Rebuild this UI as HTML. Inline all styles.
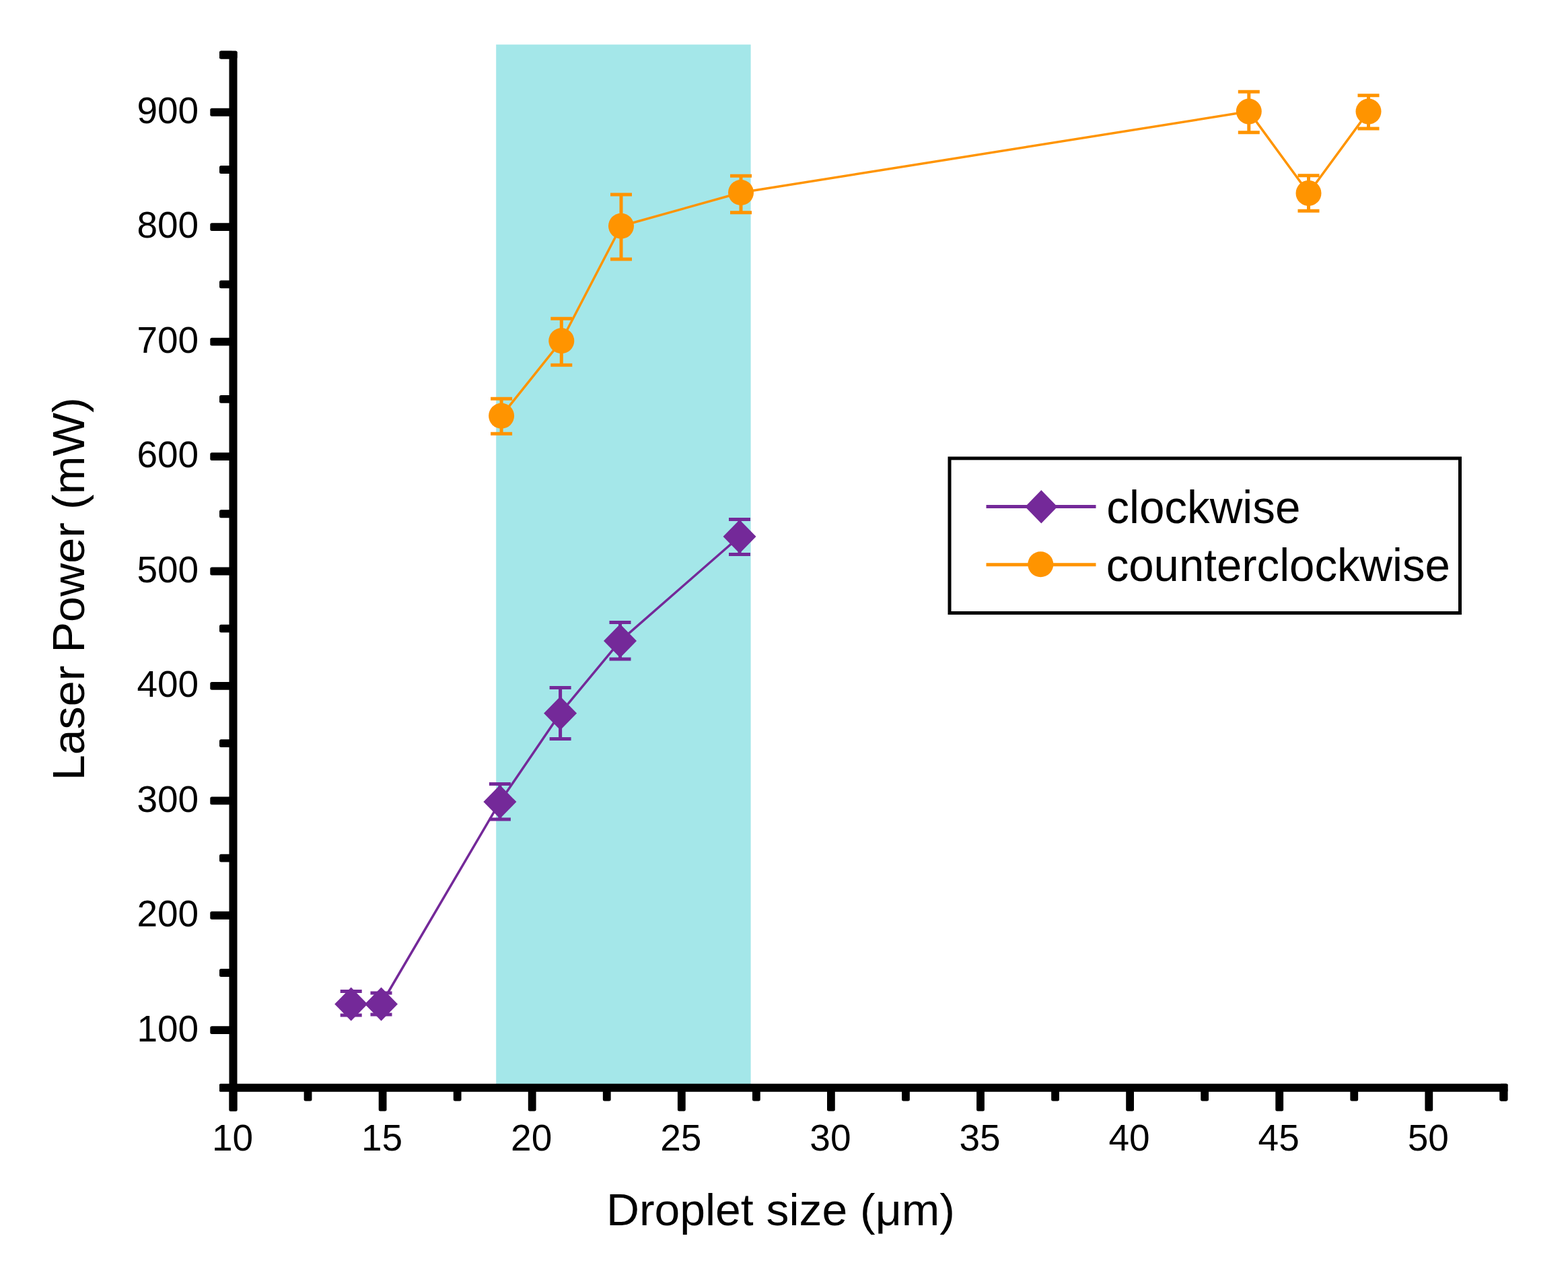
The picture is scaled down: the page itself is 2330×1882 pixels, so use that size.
<!DOCTYPE html>
<html><head><meta charset="utf-8"><title>Laser Power vs Droplet size</title>
<style>
html,body{margin:0;padding:0;background:#fff;}
body{width:2330px;height:1882px;overflow:hidden;}
svg{display:block;}
text{font-family:"Liberation Sans",Arial,Helvetica,sans-serif;fill:#000;}
</style></head><body>
<svg width="2330" height="1882" viewBox="0 0 2330 1882">
<rect width="2330" height="1882" fill="#fff"/>
<rect x="737.2" y="66.2" width="378.4" height="1545.8" fill="#a4e7e9"/>
<path d="M521.7,1491.5 L566.5,1491.5 L742.9,1191.1 L832.6,1059.4 L921.5,952.1 L1099.0,797.0" fill="none" stroke="#742999" stroke-width="3.5" stroke-linejoin="round"/>
<path d="M521.7,1472.5 V1508.0 M505.7,1472.5 H537.7 M505.7,1508.0 H537.7" stroke="#742999" stroke-width="5" fill="none"/>
<path d="M566.5,1475.0 V1507.0 M550.5,1475.0 H582.5 M550.5,1507.0 H582.5" stroke="#742999" stroke-width="5" fill="none"/>
<path d="M742.9,1164.6 V1217.0 M726.9,1164.6 H758.9 M726.9,1217.0 H758.9" stroke="#742999" stroke-width="5" fill="none"/>
<path d="M832.6,1021.4 V1097.5 M816.6,1021.4 H848.6 M816.6,1097.5 H848.6" stroke="#742999" stroke-width="5" fill="none"/>
<path d="M921.5,924.6 V979.1 M905.5,924.6 H937.5 M905.5,979.1 H937.5" stroke="#742999" stroke-width="5" fill="none"/>
<path d="M1099.0,771.6 V823.5 M1083.0,771.6 H1115.0 M1083.0,823.5 H1115.0" stroke="#742999" stroke-width="5" fill="none"/>
<path d="M521.7,1466.5 L546.2,1491.5 L521.7,1516.5 L497.2,1491.5 Z" fill="#742999"/>
<path d="M566.5,1466.5 L591.0,1491.5 L566.5,1516.5 L542.0,1491.5 Z" fill="#742999"/>
<path d="M742.9,1166.1 L767.4,1191.1 L742.9,1216.1 L718.4,1191.1 Z" fill="#742999"/>
<path d="M832.6,1034.4 L857.1,1059.4 L832.6,1084.4 L808.1,1059.4 Z" fill="#742999"/>
<path d="M921.5,927.1 L946.0,952.1 L921.5,977.1 L897.0,952.1 Z" fill="#742999"/>
<path d="M1099.0,772.0 L1123.5,797.0 L1099.0,822.0 L1074.5,797.0 Z" fill="#742999"/>
<path d="M745.1,617.7 L834.3,506.2 L923.0,335.8 L1101.0,286.0 L1855.8,165.6 L1944.5,286.9 L2033.5,165.6" fill="none" stroke="#ff9400" stroke-width="3.5" stroke-linejoin="round"/>
<path d="M745.1,592.3 V644.3 M729.1,592.3 H761.1 M729.1,644.3 H761.1" stroke="#ff9400" stroke-width="5" fill="none"/>
<path d="M834.3,473.2 V542.2 M818.3,473.2 H850.3 M818.3,542.2 H850.3" stroke="#ff9400" stroke-width="5" fill="none"/>
<path d="M923.0,288.9 V385.0 M907.0,288.9 H939.0 M907.0,385.0 H939.0" stroke="#ff9400" stroke-width="5" fill="none"/>
<path d="M1101.0,261.3 V315.7 M1085.0,261.3 H1117.0 M1085.0,315.7 H1117.0" stroke="#ff9400" stroke-width="5" fill="none"/>
<path d="M1855.8,136.2 V196.7 M1839.8,136.2 H1871.8 M1839.8,196.7 H1871.8" stroke="#ff9400" stroke-width="5" fill="none"/>
<path d="M1944.5,260.7 V313.2 M1928.5,260.7 H1960.5 M1928.5,313.2 H1960.5" stroke="#ff9400" stroke-width="5" fill="none"/>
<path d="M2033.5,141.8 V191.0 M2017.5,141.8 H2049.5 M2017.5,191.0 H2049.5" stroke="#ff9400" stroke-width="5" fill="none"/>
<circle cx="745.1" cy="617.7" r="19" fill="#ff9400"/>
<circle cx="834.3" cy="506.2" r="19" fill="#ff9400"/>
<circle cx="923.0" cy="335.8" r="19" fill="#ff9400"/>
<circle cx="1101.0" cy="286.0" r="19" fill="#ff9400"/>
<circle cx="1855.8" cy="165.6" r="19" fill="#ff9400"/>
<circle cx="1944.5" cy="286.9" r="19" fill="#ff9400"/>
<circle cx="2033.5" cy="165.6" r="19" fill="#ff9400"/>
<g fill="#000">
<rect x="340.50" y="76.00" width="12.00" height="1574.50" rx="1.5"/>
<rect x="326.00" y="1609.70" width="1914.50" height="12.00" rx="1.5"/>
<rect x="312.30" y="1524.30" width="34.20" height="11.80" rx="2.5"/>
<rect x="312.30" y="1353.87" width="34.20" height="11.80" rx="2.5"/>
<rect x="312.30" y="1183.44" width="34.20" height="11.80" rx="2.5"/>
<rect x="312.30" y="1013.01" width="34.20" height="11.80" rx="2.5"/>
<rect x="312.30" y="842.58" width="34.20" height="11.80" rx="2.5"/>
<rect x="312.30" y="672.15" width="34.20" height="11.80" rx="2.5"/>
<rect x="312.30" y="501.72" width="34.20" height="11.80" rx="2.5"/>
<rect x="312.30" y="331.29" width="34.20" height="11.80" rx="2.5"/>
<rect x="312.30" y="160.86" width="34.20" height="11.80" rx="2.5"/>
<rect x="326.00" y="1439.09" width="20.50" height="11.80" rx="2.5"/>
<rect x="326.00" y="1268.65" width="20.50" height="11.80" rx="2.5"/>
<rect x="326.00" y="1098.22" width="20.50" height="11.80" rx="2.5"/>
<rect x="326.00" y="927.80" width="20.50" height="11.80" rx="2.5"/>
<rect x="326.00" y="757.37" width="20.50" height="11.80" rx="2.5"/>
<rect x="326.00" y="586.94" width="20.50" height="11.80" rx="2.5"/>
<rect x="326.00" y="416.51" width="20.50" height="11.80" rx="2.5"/>
<rect x="326.00" y="246.08" width="20.50" height="11.80" rx="2.5"/>
<rect x="326.00" y="75.65" width="20.50" height="11.80" rx="2.5"/>
<rect x="326.00" y="75.50" width="26.50" height="12.00" rx="2.5"/>
<rect x="340.60" y="1615.70" width="11.80" height="34.80" rx="2.5"/>
<rect x="562.70" y="1615.70" width="11.80" height="34.80" rx="2.5"/>
<rect x="784.80" y="1615.70" width="11.80" height="34.80" rx="2.5"/>
<rect x="1006.90" y="1615.70" width="11.80" height="34.80" rx="2.5"/>
<rect x="1229.00" y="1615.70" width="11.80" height="34.80" rx="2.5"/>
<rect x="1451.10" y="1615.70" width="11.80" height="34.80" rx="2.5"/>
<rect x="1673.20" y="1615.70" width="11.80" height="34.80" rx="2.5"/>
<rect x="1895.30" y="1615.70" width="11.80" height="34.80" rx="2.5"/>
<rect x="2117.40" y="1615.70" width="11.80" height="34.80" rx="2.5"/>
<rect x="451.65" y="1615.70" width="11.80" height="19.80" rx="2.5"/>
<rect x="673.75" y="1615.70" width="11.80" height="19.80" rx="2.5"/>
<rect x="895.85" y="1615.70" width="11.80" height="19.80" rx="2.5"/>
<rect x="1117.95" y="1615.70" width="11.80" height="19.80" rx="2.5"/>
<rect x="1340.05" y="1615.70" width="11.80" height="19.80" rx="2.5"/>
<rect x="1562.15" y="1615.70" width="11.80" height="19.80" rx="2.5"/>
<rect x="1784.25" y="1615.70" width="11.80" height="19.80" rx="2.5"/>
<rect x="2006.35" y="1615.70" width="11.80" height="19.80" rx="2.5"/>
<rect x="2228.45" y="1615.70" width="11.80" height="19.80" rx="2.5"/>
<rect x="2228.40" y="1609.70" width="12.00" height="25.80" rx="2.5"/>
</g>
<rect x="1411" y="680.8" width="758.5" height="229.70000000000005" fill="#fff" stroke="#000" stroke-width="5"/>
<path d="M1465.5,752.5 H1628.5" stroke="#742999" stroke-width="5"/>
<path d="M1547.3,728 L1571.3,752.7 L1547.3,777.5 L1523.3,752.7 Z" fill="#742999"/>
<path d="M1465.5,838.8 H1628.5" stroke="#ff9400" stroke-width="5"/>
<circle cx="1546.3" cy="838.3" r="19" fill="#ff9400"/>
<g>
<text id="y100" x="295.20" y="1546.50" text-anchor="end" style="font-size:55px">100</text>
<text id="y200" x="295.20" y="1376.07" text-anchor="end" style="font-size:55px">200</text>
<text id="y300" x="295.20" y="1205.64" text-anchor="end" style="font-size:55px">300</text>
<text id="y400" x="295.20" y="1035.21" text-anchor="end" style="font-size:55px">400</text>
<text id="y500" x="295.20" y="864.78" text-anchor="end" style="font-size:55px">500</text>
<text id="y600" x="295.20" y="694.35" text-anchor="end" style="font-size:55px">600</text>
<text id="y700" x="295.20" y="523.92" text-anchor="end" style="font-size:55px">700</text>
<text id="y800" x="295.20" y="353.49" text-anchor="end" style="font-size:55px">800</text>
<text id="y900" x="295.20" y="183.06" text-anchor="end" style="font-size:55px">900</text>
<text id="x10" x="345.50" y="1708.50" text-anchor="middle" style="font-size:55px">10</text>
<text id="x15" x="567.60" y="1708.50" text-anchor="middle" style="font-size:55px">15</text>
<text id="x20" x="789.70" y="1708.50" text-anchor="middle" style="font-size:55px">20</text>
<text id="x25" x="1011.80" y="1708.50" text-anchor="middle" style="font-size:55px">25</text>
<text id="x30" x="1233.90" y="1708.50" text-anchor="middle" style="font-size:55px">30</text>
<text id="x35" x="1456.00" y="1708.50" text-anchor="middle" style="font-size:55px">35</text>
<text id="x40" x="1678.10" y="1708.50" text-anchor="middle" style="font-size:55px">40</text>
<text id="x45" x="1900.20" y="1708.50" text-anchor="middle" style="font-size:55px">45</text>
<text id="x50" x="2122.30" y="1708.50" text-anchor="middle" style="font-size:55px">50</text>
<text id="xt" x="900.90" y="1820.30" style="font-size:66.5px" textLength="517.99" lengthAdjust="spacingAndGlyphs">Droplet size (μm)</text>
<text id="yt" transform="translate(125.20,1159.35) rotate(-90)" x="0" y="0" style="font-size:66.5px" textLength="569.13" lengthAdjust="spacingAndGlyphs">Laser Power (mW)</text>
<text id="l1" x="1644.25" y="776.90" style="font-size:68.5px" textLength="288.21" lengthAdjust="spacingAndGlyphs">clockwise</text>
<text id="l2" x="1643.65" y="862.80" style="font-size:68.5px" textLength="511.27" lengthAdjust="spacingAndGlyphs">counterclockwise</text>
</g>
</svg>
</body></html>
